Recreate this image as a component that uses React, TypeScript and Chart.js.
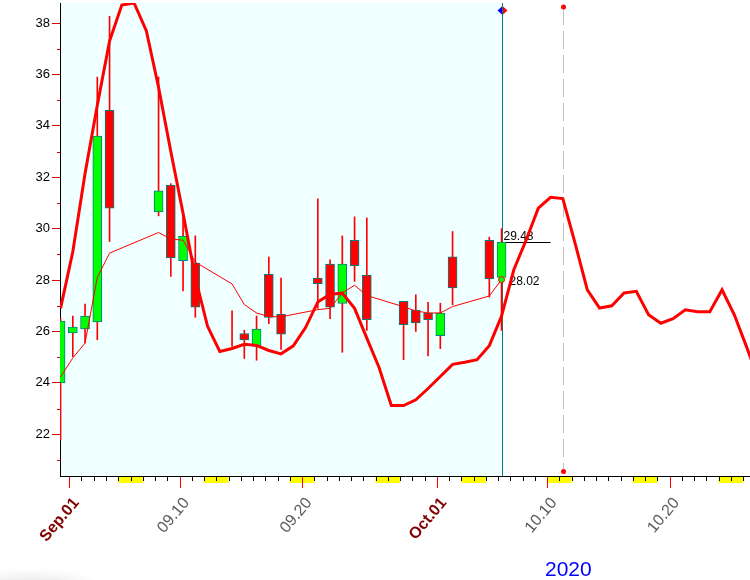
import React, { useEffect, useRef } from 'react';
import { Chart, registerables } from 'chart.js';

Chart.register(...registerables);

// ---------- data ----------
const candleDates = ['2020-08-31', '2020-09-01', '2020-09-02', '2020-09-03', '2020-09-04', '2020-09-08', '2020-09-09', '2020-09-10', '2020-09-11', '2020-09-14', '2020-09-15', '2020-09-16', '2020-09-17', '2020-09-18', '2020-09-21', '2020-09-22', '2020-09-23', '2020-09-24', '2020-09-25', '2020-09-28', '2020-09-29', '2020-09-30', '2020-10-01', '2020-10-02', '2020-10-05', '2020-10-06'];
const openValues = [24.0, 25.94, 26.1, 26.37, 34.6, 30.65, 31.7, 28.75, 28.66, 26.0, 25.92, 25.42, 28.22, 26.68, 28.08, 28.62, 27.09, 29.55, 28.19, 27.17, 26.82, 26.72, 25.84, 28.9, 29.55, 28.1];
const highValues = [26.5, 26.6, 27.07, 35.9, 38.26, 35.9, 31.75, 30.54, 29.72, 26.8, 26.05, 26.6, 28.9, 28.08, 31.16, 28.79, 29.72, 30.46, 30.42, 27.17, 27.43, 27.13, 27.1, 29.89, 29.67, 30.0];
const lowValues = [21.78, 25.02, 25.55, 25.68, 29.5, 30.5, 28.14, 27.58, 26.55, 25.42, 24.95, 24.88, 26.3, 25.3, 26.9, 26.5, 25.19, 27.95, 26.04, 24.9, 26.0, 25.05, 25.33, 27.04, 27.34, 26.04];
const closeValues = [26.4, 26.17, 26.6, 33.6, 30.8, 31.47, 28.86, 29.71, 26.95, 26.0, 25.67, 26.09, 26.55, 25.9, 27.86, 26.95, 28.62, 28.56, 26.46, 26.26, 26.33, 26.46, 26.72, 27.69, 28.04, 29.48];
const averageValues = [24.23, 24.97, 25.55, 28.1, 29.05, 29.85, 29.6, 29.55, 28.7, 27.85, 27.05, 26.72, 26.58, 26.57, 26.85, 26.9, 27.5, 27.8, 27.4, 26.96, 26.8, 26.72, 26.72, 26.97, 27.38, 28.02];

// daily curve, one value per calendar day starting on forecastStart
const forecastStart = '2020-08-31';
const forecastValues = [26.9, 29.1, 32.15, 34.8, 37.3, 38.7, 38.78, 37.7, 35.5, 33.0, 30.6, 28.1, 26.2, 25.22, 25.34, 25.5, 25.46, 25.26, 25.13, 25.44, 26.15, 27.15, 27.45, 27.49, 26.9, 25.74, 24.6, 23.12, 23.12, 23.34, 23.78, 24.25, 24.72, 24.8, 24.9, 25.45, 26.6, 28.4, 29.55, 30.8, 31.22, 31.17, 29.44, 27.62, 26.91, 27.0, 27.5, 27.56, 26.65, 26.32, 26.5, 26.84, 26.77, 26.77, 27.62, 26.65, 25.4, 24.1];

const tickDates = ['2020-09-01', '2020-09-10', '2020-09-20', '2020-10-01', '2020-10-10', '2020-10-20'];
const tickLabels = ['Sep.01', '09.10', '09.20', 'Oct.01', '10.10', '10.20'];
const monthTick = [true, false, false, true, false, false];
const yTickValues = [22, 24, 26, 28, 30, 32, 34, 36, 38];
const yMinorValues = [21, 23, 25, 27, 29, 31, 33, 35, 37];

const cursorDate = '2020-10-06';
const markerDate = '2020-10-11';
const lastCloseLabel = '29.48';
const lastAverageLabel = '28.02';
const lastCloseValue = 29.48;
const lastAverageValue = 28.02;
const yearLabel = '2020';

// ---------- helpers ----------
const BASE = Date.UTC(2020, 8, 1);
const dayOf = (s: string) => {
  const [y, m, d] = s.split('-').map(Number);
  return Math.round((Date.UTC(y, m - 1, d) - BASE) / 86400000);
};
const FONT = '"Liberation Sans", Arial, sans-serif';
const X_MIN = -1.045;
const X_MAX = 55.28;
const Y_MIN = 20.377;
const Y_MAX = 38.78;
const SLOT = -0.29;
const LABEL_SHIFT = 0.57;

const candleDays = candleDates.map(dayOf);
const forecastDay0 = dayOf(forecastStart);

const decor = {
  id: 'decor',
  beforeDraw(chart: any) {
    const { ctx, chartArea: a, scales } = chart;
    const x = scales.x;
    ctx.save();
    ctx.fillStyle = '#ffffff';
    ctx.fillRect(0, 0, chart.width, chart.height);
    const cx = x.getPixelForValue(dayOf(cursorDate));
    ctx.fillStyle = '#F0FFFF';
    ctx.fillRect(a.left, a.top, cx - a.left, a.bottom - a.top);
    // soft shadow bottom-left
    ctx.translate(30, 592);
    ctx.scale(1, 0.28);
    const g = ctx.createRadialGradient(0, 0, 0, 0, 0, 85);
    g.addColorStop(0, 'rgba(0,0,0,0.13)');
    g.addColorStop(1, 'rgba(0,0,0,0)');
    ctx.fillStyle = g;
    ctx.fillRect(-90, -90, 180, 180);
    ctx.restore();
  },
  beforeDatasetsDraw(chart: any) {
    const { ctx, chartArea: a, scales } = chart;
    const x = scales.x;
    const y = scales.y;
    const cx = Math.round(x.getPixelForValue(dayOf(cursorDate))) + 0.5;
    const mx = Math.round(x.getPixelForValue(dayOf(markerDate))) + 0.5;
    ctx.save();
    // dashed marker line
    ctx.strokeStyle = '#C0C0C0';
    ctx.lineWidth = 1;
    ctx.setLineDash([18, 6]);
    ctx.beginPath();
    ctx.moveTo(mx, a.top + 4);
    ctx.lineTo(mx, a.bottom - 5);
    ctx.stroke();
    ctx.setLineDash([]);
    // cursor line
    ctx.strokeStyle = '#008080';
    ctx.beginPath();
    ctx.moveTo(cx, a.top);
    ctx.lineTo(cx, a.bottom);
    ctx.stroke();
    // last close line
    const ly = Math.round(y.getPixelForValue(lastCloseValue)) + 0.5;
    ctx.strokeStyle = '#000000';
    ctx.beginPath();
    ctx.moveTo(cx, ly);
    ctx.lineTo(x.getPixelForValue(dayOf(cursorDate) + 4), ly);
    ctx.stroke();
    // labels
    ctx.fillStyle = '#000000';
    ctx.font = '12px ' + FONT;
    ctx.textBaseline = 'alphabetic';
    ctx.textAlign = 'left';
    ctx.fillText(lastCloseLabel, cx + 1, ly - 3);
    ctx.fillText(lastAverageLabel, cx + 7, y.getPixelForValue(lastAverageValue) + 5.5);
    ctx.restore();
  },
  afterDatasetsDraw(chart: any) {
    const { ctx, chartArea: a, scales } = chart;
    const x = scales.x;
    const cx = Math.round(x.getPixelForValue(dayOf(cursorDate))) + 0.5;
    const mx = Math.round(x.getPixelForValue(dayOf(markerDate))) + 0.5;
    ctx.save();
    // diamond
    const dy = a.top + 7.5;
    ctx.fillStyle = '#0000FF';
    ctx.beginPath();
    ctx.moveTo(cx, dy - 4.5);
    ctx.lineTo(cx - 5, dy);
    ctx.lineTo(cx, dy + 4.5);
    ctx.closePath();
    ctx.fill();
    ctx.fillStyle = '#FF0000';
    ctx.beginPath();
    ctx.moveTo(cx, dy - 4.5);
    ctx.lineTo(cx + 5, dy);
    ctx.lineTo(cx, dy + 4.5);
    ctx.closePath();
    ctx.fill();
    ctx.strokeStyle = '#008080';
    ctx.beginPath();
    ctx.moveTo(cx, dy - 5);
    ctx.lineTo(cx, dy + 5);
    ctx.stroke();
    // red dots on marker line
    ctx.fillStyle = '#FF0000';
    for (const py of [a.top + 4, a.bottom - 4.5]) {
      ctx.beginPath();
      ctx.arc(mx, py, 2.5, 0, Math.PI * 2);
      ctx.fill();
    }
    ctx.restore();
  },
  afterDraw(chart: any) {
    const { ctx, chartArea: a, scales } = chart;
    const x = scales.x;
    const y = scales.y;
    ctx.save();
    // weekend blocks
    ctx.fillStyle = '#FFFF00';
    for (let d = -2; d <= 57; d++) {
      const dow = new Date(BASE + d * 86400000).getUTCDay();
      if (dow === 6) {
        let l = x.getPixelForValue(d + SLOT);
        let r = x.getPixelForValue(d + 2 + SLOT);
        l = Math.max(l, a.left + 1);
        r = Math.min(r, a.right);
        if (r > l) ctx.fillRect(l, a.bottom + 1, r - l, 6);
      }
    }
    // daily ticks
    ctx.strokeStyle = '#000000';
    ctx.lineWidth = 1;
    for (let d = -2; d <= 57; d++) {
      const px = Math.round(x.getPixelForValue(d + SLOT)) + 0.5;
      if (px <= a.left + 1 || px > a.right) continue;
      ctx.beginPath();
      ctx.moveTo(px, a.bottom);
      ctx.lineTo(px, a.bottom + 5);
      ctx.stroke();
    }
    // labelled ticks
    ctx.strokeStyle = '#FF0000';
    for (const t of tickDates) {
      const px = Math.round(x.getPixelForValue(dayOf(t) + SLOT)) + 0.5;
      ctx.beginPath();
      ctx.moveTo(px, a.bottom + 1);
      ctx.lineTo(px, a.bottom + 12);
      ctx.stroke();
    }
    // minor y ticks
    ctx.strokeStyle = '#D00000';
    for (const v of yMinorValues) {
      const py = Math.round(y.getPixelForValue(v)) + 0.5;
      ctx.beginPath();
      ctx.moveTo(a.left - 3, py);
      ctx.lineTo(a.left, py);
      ctx.stroke();
    }
    // year label
    ctx.fillStyle = '#0000FF';
    ctx.font = '21px ' + FONT;
    ctx.textAlign = 'left';
    ctx.textBaseline = 'alphabetic';
    ctx.fillText(yearLabel, 545, 576);
    ctx.restore();
  },
};

export default function App() {
  const ref = useRef<HTMLCanvasElement | null>(null);
  useEffect(() => {
    if (!ref.current) return;
    const n = candleDays.length;
    const chart = new Chart(ref.current, {
      type: 'bar',
      data: {
        datasets: [
          {
            type: 'line',
            data: forecastValues.map((v, i) => ({ x: forecastDay0 + i, y: v })),
            borderColor: '#FF0000',
            borderWidth: 3,
            pointRadius: 0,
            tension: 0,
            order: 0,
          } as any,
          {
            type: 'line',
            data: averageValues.map((v, i) => ({ x: candleDays[i], y: v })),
            borderColor: '#FF0000',
            borderWidth: 1,
            pointRadius: (c: any) => (c.dataIndex === n - 1 ? 3 : 0),
            pointBackgroundColor: '#00FF00',
            pointBorderColor: '#FF0000',
            pointBorderWidth: 1,
            tension: 0,
            order: 1,
          } as any,
          {
            type: 'bar',
            data: candleDays.map((d, i) => ({
              x: d,
              y: openValues[i] === closeValues[i] ? null : [openValues[i], closeValues[i]],
            })),
            backgroundColor: candleDays.map((_, i) => (closeValues[i] >= openValues[i] ? '#00FF00' : '#FF0000')),
            borderColor: '#008080',
            borderWidth: 1,
            borderSkipped: false,
            barThickness: 9,
            grouped: false,
            order: 2,
          } as any,
          {
            type: 'bar',
            data: candleDays.map((d, i) => ({ x: d, y: [lowValues[i], highValues[i]] })),
            backgroundColor: '#FF0000',
            borderWidth: 0,
            barThickness: 1,
            grouped: false,
            order: 3,
          } as any,
        ],
      },
      options: {
        responsive: false,
        animation: false,
        devicePixelRatio: 1,
        events: [],
        layout: { autoPadding: false, padding: { top: 3, left: 0, right: 0, bottom: 0 } },
        plugins: { legend: { display: false }, tooltip: { enabled: false } },
        scales: {
          x: {
            type: 'linear',
            min: X_MIN,
            max: X_MAX,
            offset: false,
            grid: { display: true, drawOnChartArea: false, drawTicks: false, offset: false },
            border: { display: true, color: '#000000', width: 1 },
            afterBuildTicks: (s: any) => {
              s.ticks = tickDates.map((t) => ({ value: dayOf(t) + SLOT + LABEL_SHIFT }));
            },
            afterFit: (s: any) => {
              s.height = 104;
              s.paddingLeft = 0;
              s.paddingRight = 0;
            },
            ticks: {
              autoSkip: false,
              minRotation: 50,
              maxRotation: 50,
              padding: 18,
              callback: (_v: any, i: number) => tickLabels[i],
              color: (c: any) => (monthTick[c.index] ? '#800000' : '#5a5a5a'),
              font: (c: any) => ({ family: FONT, size: 16, weight: monthTick[c.index] ? 'bold' : 'normal' }),
            },
          } as any,
          y: {
            type: 'linear',
            min: Y_MIN,
            max: Y_MAX,
            z: 1,
            afterBuildTicks: (s: any) => {
              s.ticks = yTickValues.map((v) => ({ value: v }));
            },
            afterFit: (s: any) => {
              s.width = 60;
              s.paddingTop = 0;
              s.paddingBottom = 0;
            },
            grid: { display: true, drawOnChartArea: false, drawTicks: true, tickLength: 8, tickColor: '#D00000', tickWidth: 1 },
            border: { display: true, color: '#000000', width: 1 },
            ticks: {
              padding: 2,
              color: '#000000',
              font: { family: FONT, size: 13 },
              callback: (v: any) => String(v),
            },
          } as any,
        },
      },
      plugins: [decor],
    });
    return () => chart.destroy();
  }, []);
  return (
    <div style={{ position: 'fixed', left: 0, top: 0, width: 750, height: 580, background: '#fff' }}>
      <canvas ref={ref} width={750} height={580} style={{ display: 'block', width: 750, height: 580 }} />
    </div>
  );
}
